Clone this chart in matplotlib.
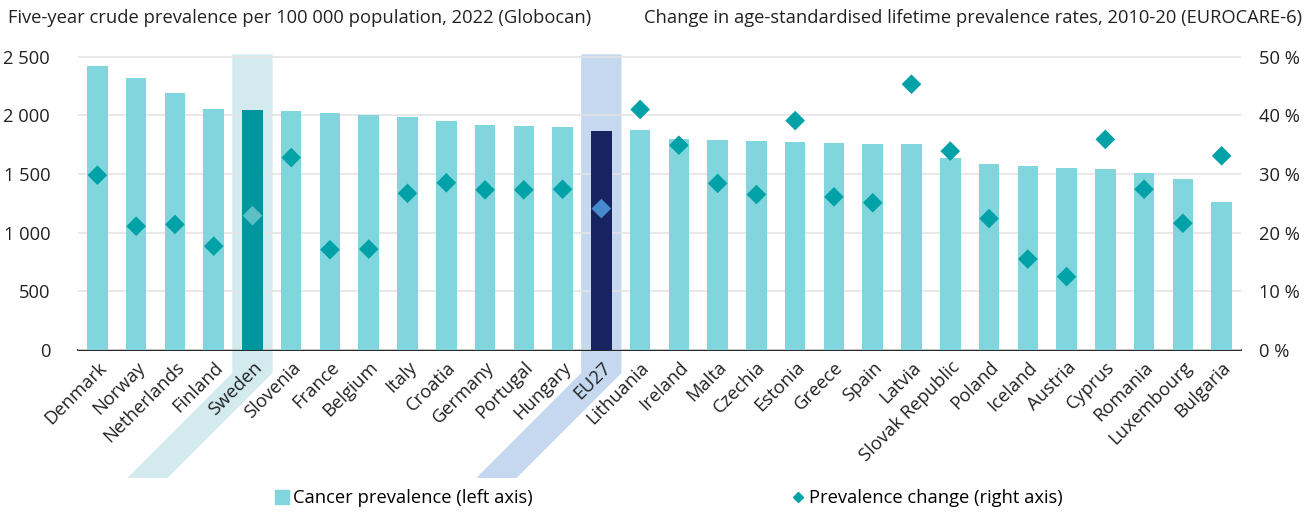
import matplotlib
matplotlib.use("Agg")
import matplotlib.pyplot as plt
from matplotlib.patches import Polygon
from matplotlib.lines import Line2D
from matplotlib.ticker import FuncFormatter, MultipleLocator
import numpy as np

countries = ["Denmark", "Norway", "Netherlands", "Finland", "Sweden", "Slovenia", "France",
             "Belgium", "Italy", "Croatia", "Germany", "Portugal", "Hungary", "EU27",
             "Lithuania", "Ireland", "Malta", "Czechia", "Estonia", "Greece", "Spain",
             "Latvia", "Slovak Republic", "Poland", "Iceland", "Austria", "Cyprus",
             "Romania", "Luxembourg", "Bulgaria"]
prevalence = [2420, 2318, 2188, 2054, 2045, 2034, 2023, 2003, 1983, 1952, 1921, 1906, 1901,
              1867, 1872, 1796, 1793, 1779, 1776, 1764, 1759, 1759, 1636, 1582, 1565, 1548,
              1540, 1509, 1457, 1264]
change = [29.8, 21.1, 21.4, 17.7, 22.9, 32.8, 17.1, 17.2, 26.7, 28.5, 27.3, 27.3, 27.4,
          24.1, 41.0, 34.9, 28.4, 26.5, 39.1, 26.1, 25.1, 45.3, 33.9, 22.4, 15.5, 12.5,
          35.9, 27.4, 21.6, 33.1]
left_title = "Five-year crude prevalence per 100 000 population, 2022 (Globocan)"
right_title = "Change in age-standardised lifetime prevalence rates, 2010-20 (EUROCARE-6)"

BAR = "#80d6dc"
DIAM = "#00a1a7"
plt.rcParams['font.family'] = ['Open Sans', 'DejaVu Sans']
FS = 13.2

W, H, DPI = 13.14, 5.13, 100
fig = plt.figure(figsize=(W, H), dpi=DPI)
ax = fig.add_axes([78 / 1314, 1 - 350 / 513, (1241 - 78) / 1314, (350 - 54.3) / 513])
ax2 = ax.twinx()

x = np.arange(len(countries))
bar_colors = [BAR] * len(countries)
diam_colors = [DIAM] * len(countries)
i_se = countries.index("Sweden")
i_eu = countries.index("EU27")
bar_colors[i_se] = "#00969f"
bar_colors[i_eu] = "#17245f"
diam_colors[i_se] = "#5cc0c6"
diam_colors[i_eu] = "#4689cc"

ax.set_zorder(1)
ax2.set_zorder(2)
ax.patch.set_visible(False)
ax2.patch.set_visible(False)

ax.bar(x, prevalence, width=0.53, color=bar_colors, zorder=3)
ax.set_xlim(-0.5, len(countries) - 0.5)
ax.set_ylim(0, 2520)
ax2.set_ylim(0, 50.4)
ax.yaxis.set_major_locator(MultipleLocator(500))
ax2.yaxis.set_major_locator(MultipleLocator(10))
ax.yaxis.set_major_formatter(FuncFormatter(lambda v, p: f"{int(v):,}".replace(",", " ")))
ax2.yaxis.set_major_formatter(FuncFormatter(lambda v, p: f"{int(v)} %"))
ax.grid(axis='y', color='#e4e4e4', linewidth=1.2, zorder=1)
ax.set_axisbelow(False)

ax2.scatter(x, change, marker='D', s=100, c=diam_colors, zorder=4, linewidths=0)

for a in (ax, ax2):
    for s in ("left", "right", "top"):
        a.spines[s].set_visible(False)
    a.spines["bottom"].set_color("black")
    a.spines["bottom"].set_linewidth(1.2)
    a.tick_params(axis='both', length=0, labelsize=FS, colors='#222222')
ax2.spines["bottom"].set_visible(False)
ax.tick_params(axis='y', pad=20)
ax2.tick_params(axis='y', pad=13)
ax.set_xticks(x)
ax.set_xticklabels(countries, rotation=45, ha='right', va='top', rotation_mode='anchor', fontsize=FS)
ax.tick_params(axis='x', pad=6)

# highlight bands (vertical through plot, then slanted along the rotated labels)
fig.canvas.draw()
to_fig = fig.transFigure.inverted()
def band(idx, color):
    xl = ax.transData.transform((idx - 0.52, 0))[0]
    xr = ax.transData.transform((idx + 0.52, 0))[0]
    y0 = ax.transAxes.transform((0, 0))[1]
    ytop = ax.transAxes.transform((0, 1))[1]
    ycorner = y0 - 23
    ybot = y0 - 128
    d = ycorner - ybot
    pts = [(xl, ytop), (xl, ycorner), (xl - d, ybot), (xr - d, ybot), (xr, ycorner), (xr, ytop)]
    pts = to_fig.transform(pts)
    p = Polygon(pts, closed=True, transform=fig.transFigure, facecolor=color,
                edgecolor='none', zorder=0)
    fig.patches.append(p)
band(i_se, "#d3ebef")
band(i_eu, "#c5d8f0")

fig.text(8 / 1314, 1 - 18 / 513, left_title, fontsize=FS, ha='left', va='center', color='#222222')
fig.text(1302 / 1314, 1 - 18 / 513, right_title, fontsize=FS, ha='right', va='center', color='#222222')

handles = [Line2D([], [], marker='s', linestyle='none', color=BAR, markersize=10),
           Line2D([], [], marker='D', linestyle='none', color=DIAM, markersize=5.5)]
labels = ["Cancer prevalence (left axis)", "Prevalence change (right axis)"]
fig.legend(handles, labels, loc='center', bbox_to_anchor=(668 / 1314, 1 - 498 / 513), ncol=2,
           frameon=False, fontsize=FS, columnspacing=14.0, handletextpad=0.1, handlelength=1.0)

fig.savefig("out.png", dpi=DPI)
